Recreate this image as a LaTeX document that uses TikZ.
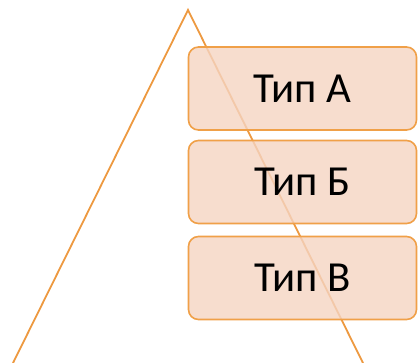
\documentclass[tikz,border=0pt]{standalone}
\usepackage{fontspec}
\setmainfont{Carlito}
\definecolor{lineor}{RGB}{237,153,64}
\definecolor{boxfill}{RGB}{245,212,194}
\definecolor{boxdraw}{RGB}{240,160,72}
\tikzset{
  tbox/.style={draw=boxdraw, line width=1.6bp, fill=boxfill, fill opacity=0.8, text opacity=1,
    rounded corners=10bp, minimum width=228bp, minimum height=83bp, inner sep=0pt,
    font=\fontsize{43}{46}\selectfont, text=black},
  tri/.style={draw=lineor, line width=1.8bp}
}
\begin{document}
\begin{tikzpicture}[x=1bp,y=-1bp]
\useasboundingbox (0,0) rectangle (418,363);
\coordinate (apex) at (188,10);
\coordinate (bl) at (13,363);
\coordinate (br) at (363,363);
\draw[tri] (bl) -- (apex) -- (br);
\node[tbox] (a) at (302.5,88.5) {Тип А};
\node[tbox] (b) at (302.5,182) {Тип Б};
\node[tbox] (c) at (302.5,278) {Тип В};
\end{tikzpicture}
\end{document}
